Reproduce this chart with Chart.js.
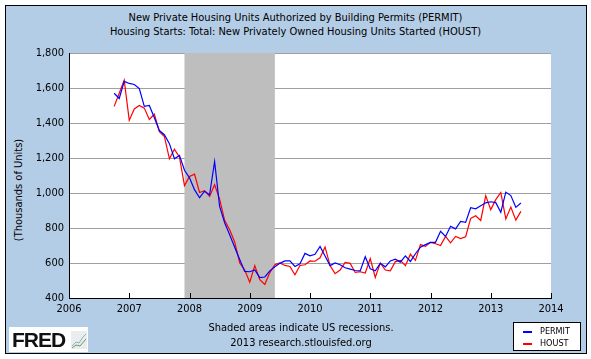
<!DOCTYPE html>
<html>
<head>
<meta charset="utf-8">
<script src="https://cdn.jsdelivr.net/npm/chart.js@4.4.1/dist/chart.umd.min.js"></script>
<style>
  html, body { margin:0; padding:0; background:#ffffff; }
  body { width:591px; height:359px; position:relative; overflow:hidden; font-family:"DejaVu Sans Condensed","DejaVu Sans",sans-serif; }
  #frame { position:absolute; left:5px; top:5px; width:580px; height:347px; background:#B4CDE6; border:1px solid #000; }
  #c { position:absolute; left:0; top:0; }
  .t { position:absolute; font-size:11px; color:#000; white-space:nowrap; text-align:center; }
  #ytitle { position:absolute; left:18px; top:190px; transform:translate(-50%,-50%) rotate(-90deg); font-size:11px; white-space:nowrap; }
  #legend { position:absolute; left:513px; top:322px; width:66px; height:27px; background:#fff; border:1px solid #000; font-size:9px; }
  #legend div { position:absolute; left:26px; }
  #legend span { position:absolute; left:9px; width:9px; height:2px; }
  #logo { position:absolute; left:9px; top:327px; width:79px; height:25px; background:#fff; }
  #logo b { position:absolute; left:3px; top:1px; font-family:"Liberation Sans",Arial,sans-serif; font-weight:900; font-size:21px; letter-spacing:-1px; color:#111; }
</style>
</head>
<body>
<div id="frame"></div>
<div class="t" style="left:0;width:591px;top:11px;">New Private Housing Units Authorized by Building Permits (PERMIT)</div>
<div class="t" style="left:0;width:591px;top:25px;">Housing Starts: Total: New Privately Owned Housing Units Started (HOUST)</div>
<div id="ytitle">(Thousands of Units)</div>
<canvas id="c" width="591" height="359"></canvas>
<div class="t" style="left:0;width:602px;top:321px;">Shaded areas indicate US recessions.</div>
<div class="t" style="left:0;width:602px;top:336px;">2013 research.stlouisfed.org</div>
<div id="legend">
  <span style="top:8px;background:#0000ff;"></span><div style="top:3px;">PERMIT</div>
  <span style="top:20px;background:#ff0000;"></span><div style="top:15px;">HOUST</div>
</div>
<div id="logo"><b>FRED</b><canvas id="ico" width="16" height="18" style="position:absolute;left:62px;top:4px;"></canvas></div>
<script>
// ---- data (monthly, Oct 2006 .. Jul 2013) ----
const startYear = 2006, startMonth = 10;
const permit = [
  1570, 1540, 1638,
  1626, 1620, 1597, 1495, 1500, 1430, 1357, 1333, 1282, 1196, 1215, 1130,
  1087, 1019, 973, 1010, 990, 1180, 923, 830, 762, 690, 620, 552,
  550, 560, 516, 520, 555, 578, 598, 612, 612, 580, 596, 655,
  641, 650, 695, 640, 585, 600, 590, 573, 565, 557, 555, 636,
  567, 555, 598, 578, 612, 622, 605, 641, 609, 653, 690, 705,
  718, 718, 781, 752, 810, 795, 838, 832, 916, 910, 927, 944,
  950, 945, 890, 1005, 985, 918, 943
];
const houst = [
  1495, 1570, 1645,
  1415, 1480, 1500, 1485, 1420, 1450, 1350, 1323, 1195, 1250, 1205, 1042,
  1095, 1108, 1003, 1013, 980, 1047, 965, 844, 790, 720, 600, 560,
  490, 585, 505, 478, 545, 590, 600, 586, 580, 533, 586, 590,
  612, 610, 630, 692, 585, 539, 560, 603, 598, 546, 550, 543,
  625, 517, 600, 560, 555, 608, 615, 585, 650, 615, 705, 695,
  718, 710, 700, 752, 715, 752, 740, 750, 855, 870, 843, 985,
  905, 962, 1003, 852, 920, 845, 895
];
const recessions = [[2007 + 11/12, 2009 + 5/12]];
const yearTicks = [2006, 2007, 2008, 2009, 2010, 2011, 2012, 2013, 2014];

function toPoints(arr) {
  return arr.map((v, i) => ({ x: startYear + (startMonth - 1 + i) / 12, y: v }));
}

const FONT = { family: "'DejaVu Sans Condensed','DejaVu Sans',sans-serif", size: 11 };

const decor = {
  id: 'decor',
  beforeDraw(chart) {
    const { ctx, chartArea: a } = chart;
    ctx.save();
    ctx.fillStyle = '#ffffff';
    ctx.fillRect(a.left, a.top, a.right - a.left, a.bottom - a.top);
    ctx.restore();
  },
  beforeDatasetsDraw(chart) {
    const { ctx, chartArea: a, scales } = chart;
    ctx.save();
    ctx.fillStyle = '#BEBEBE';
    recessions.forEach(([s, e]) => {
      const x1 = scales.x.getPixelForValue(s), x2 = scales.x.getPixelForValue(e);
      ctx.fillRect(x1, a.top, x2 - x1, a.bottom - a.top);
    });
    ctx.strokeStyle = '#000';
    ctx.lineWidth = 1;
    yearTicks.forEach(y => {
      const x = Math.round(scales.x.getPixelForValue(y)) + 0.5;
      ctx.beginPath(); ctx.moveTo(x, a.bottom); ctx.lineTo(x, a.bottom - 5); ctx.stroke();
    });
    ctx.restore();
  }
};

new Chart(document.getElementById('c'), {
  type: 'line',
  data: {
    datasets: [
      { label: 'PERMIT', data: toPoints(permit), borderColor: '#0000ff', borderWidth: 1.2, pointRadius: 0, tension: 0, fill: false },
      { label: 'HOUST', data: toPoints(houst), borderColor: '#ff0000', borderWidth: 1.2, pointRadius: 0, tension: 0, fill: false }
    ]
  },
  options: {
    responsive: false,
    animation: false,
    events: [],
    layout: { padding: { top: 53, right: 40, left: 0, bottom: 0 } },
    plugins: { legend: { display: false }, tooltip: { enabled: false }, title: { display: false } },
    scales: {
      x: {
        type: 'linear', min: 2006, max: 2014,
        afterBuildTicks: s => { s.ticks = yearTicks.map(v => ({ value: v })); },
        afterFit: s => { s.height = 61; },
        grid: { display: false, drawTicks: false },
        border: { display: true, color: '#000', width: 1 },
        ticks: { font: FONT, color: '#000', padding: 5, maxRotation: 0, callback: v => String(v) }
      },
      y: {
        min: 400, max: 1800,
        afterFit: s => { s.width = 69; },
        grid: { color: '#A0A0A0', lineWidth: 1, drawTicks: false },
        border: { display: true, color: '#000', width: 1 },
        ticks: { font: FONT, color: '#000', padding: 5, stepSize: 200, callback: v => v.toLocaleString('en-US') }
      }
    }
  },
  plugins: [decor]
});

// small logo icon
(function(){
  const c = document.getElementById('ico').getContext('2d');
  c.fillStyle = '#e8eef0'; c.fillRect(0,0,16,18);
  c.strokeStyle = '#9ab'; c.lineWidth = 1;
  c.beginPath(); c.moveTo(1,15); c.lineTo(5,11); c.lineTo(8,12); c.lineTo(12,6); c.lineTo(15,3); c.stroke();
  c.strokeStyle = '#6a9a5a';
  c.beginPath(); c.moveTo(1,17); c.lineTo(5,14); c.lineTo(9,15); c.lineTo(15,8); c.stroke();
})();
</script>
</body>
</html>
